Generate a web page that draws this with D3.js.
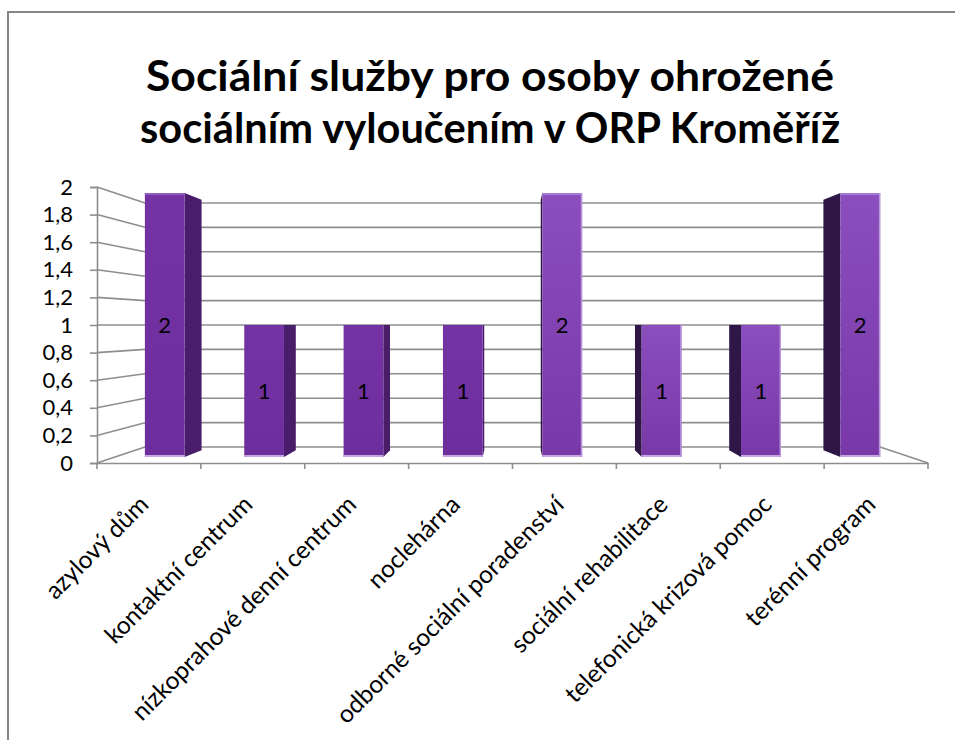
<!DOCTYPE html>
<html>
<head>
<meta charset="utf-8">
<script src="https://cdn.jsdelivr.net/npm/d3@7"></script>
<style>
  body { margin: 0; background: #fff; }
  svg { display: block; }
</style>
</head>
<body>
<svg id="chart" width="955" height="740"></svg>
<script>
var titleLines = ["Sociální služby pro osoby ohrožené", "sociálním vyloučením v ORP Kroměříž"];
var categories = ["azylový dům", "kontaktní centrum", "nízkoprahové denní centrum", "noclehárna",
    "odborné sociální poradenství", "sociální rehabilitace", "telefonická krizová pomoc", "terénní program"];
var values = [2, 1, 1, 1, 2, 1, 1, 2];
var yTicks = [0, 0.2, 0.4, 0.6, 0.8, 1, 1.2, 1.4, 1.6, 1.8, 2];

var svg = d3.select("svg#chart");
var font = "Lato, 'Open Sans', sans-serif";

// front plane of the 3d box
var x = d3.scaleBand().domain(categories).range([97, 928]).paddingInner(0).paddingOuter(0);
var y = d3.scaleLinear().domain([0, 2]).range([463, 187]);

// perspective: vanishing point in the middle of the plot
var vx = (x.range()[0] + x.range()[1]) / 2,
    vy = y(1);
var wallK = 0.8845, barFrontK = 0.9565, barBackK = 0.907;
var proj = (X, Y, k) => [vx + (X - vx) * k, vy + (Y - vy) * k];
var fmt = v => d3.format(".1~f")(v).replace(".", ",");

// chart border (left + top only visible)
svg.append("path")
    .attr("d", "M8,740 L8,12 L955,12")
    .attr("fill", "none")
    .attr("stroke", "#868686")
    .attr("stroke-width", 2);

// title, squeezed a little to look like the narrower original face
var titleWidths = [688, 700];
svg.append("g")
    .attr("font-family", font)
    .attr("font-weight", "bold")
    .attr("font-size", 42)
    .attr("text-anchor", "middle")
    .selectAll("text")
    .data(titleLines)
    .join("text")
    .attr("x", 490)
    .attr("y", (d, i) => 91 + i * 52)
    .attr("textLength", (d, i) => titleWidths[i])
    .attr("lengthAdjust", "spacingAndGlyphs")
    .text(d => d);

var grid = svg.append("g")
    .attr("stroke", "#8e8e8e")
    .attr("stroke-width", 1.6)
    .attr("fill", "none");

// left side wall gridlines
grid.selectAll("line.side")
    .data(yTicks)
    .join("line")
    .attr("class", "side")
    .attr("x1", x.range()[0]).attr("y1", d => y(d))
    .attr("x2", d => proj(x.range()[0], y(d), wallK)[0])
    .attr("y2", d => proj(x.range()[0], y(d), wallK)[1]);

// back wall gridlines
grid.selectAll("line.back")
    .data(yTicks)
    .join("line")
    .attr("class", "back")
    .attr("x1", d => proj(x.range()[0], y(d), wallK)[0])
    .attr("y1", d => proj(x.range()[0], y(d), wallK)[1])
    .attr("x2", d => proj(x.range()[1], y(d), wallK)[0])
    .attr("y2", d => proj(x.range()[1], y(d), wallK)[1]);

// floor right edge
var fr = proj(x.range()[1], y(0), wallK);
grid.append("line")
    .attr("x1", x.range()[1]).attr("y1", y(0))
    .attr("x2", fr[0]).attr("y2", fr[1]);

// y axis
var yAxis = svg.append("g")
    .attr("transform", `translate(${x.range()[0]},0)`)
    .call(d3.axisLeft(y).tickValues(yTicks).tickFormat(fmt).tickSize(7).tickPadding(17));
yAxis.select(".domain").attr("stroke", "#8e8e8e").attr("stroke-width", 1.6);
yAxis.selectAll(".tick line").attr("stroke", "#8e8e8e").attr("stroke-width", 1.6);
yAxis.selectAll(".tick text")
    .attr("font-family", font)
    .attr("font-size", 22)
    .attr("fill", "#000");

// x axis (front floor edge)
var xAxis = svg.append("g")
    .attr("transform", `translate(0,${y(0)})`)
    .call(d3.axisBottom(x).tickSize(0).tickFormat(""));
xAxis.select(".domain").attr("stroke", "#8e8e8e").attr("stroke-width", 1.6);
xAxis.selectAll(".boundary")
    .data(d3.range(categories.length + 1))
    .join("line")
    .attr("class", "boundary")
    .attr("x1", i => x.range()[0] + i * x.step())
    .attr("x2", i => x.range()[0] + i * x.step())
    .attr("y1", 0).attr("y2", 6)
    .attr("stroke", "#8e8e8e")
    .attr("stroke-width", 1.6);

// category labels
svg.append("g")
    .attr("font-family", font)
    .attr("font-size", 24.5)
    .attr("text-anchor", "end")
    .selectAll("text")
    .data(categories)
    .join("text")
    .attr("transform", d => `translate(${x(d) + x.bandwidth() / 2 - 5},${y(0) + 37}) rotate(-45)`)
    .attr("dy", "0.35em")
    .text(d => d);

// bars
var defs = svg.append("defs");
var gl = defs.append("linearGradient").attr("id", "gl").attr("x1", 0).attr("x2", 0).attr("y1", 0).attr("y2", 1);
gl.append("stop").attr("offset", 0).attr("stop-color", "#7433a4");
gl.append("stop").attr("offset", 1).attr("stop-color", "#6d2e9d");
var gr = defs.append("linearGradient").attr("id", "gr").attr("x1", 0).attr("x2", 0).attr("y1", 0).attr("y2", 1);
gr.append("stop").attr("offset", 0).attr("stop-color", "#8b4ebd");
gr.append("stop").attr("offset", 1).attr("stop-color", "#7838a8");

var barW = x.step() / 2.5;
var bars = values.map((v, i) => {
    var c = x(categories[i]) + x.bandwidth() / 2;
    var x0 = c - barW / 2, x1 = c + barW / 2;
    return {
        v, c, right: c > vx,
        f: [proj(x0, y(v), barFrontK), proj(x1, y(v), barFrontK), proj(x1, y(0), barFrontK), proj(x0, y(0), barFrontK)],
        b: [proj(x0, y(v), barBackK), proj(x1, y(v), barBackK), proj(x1, y(0), barBackK), proj(x0, y(0), barBackK)]
    };
});

var gBars = svg.append("g");
// side faces
gBars.selectAll("path.side")
    .data(bars)
    .join("path")
    .attr("class", "side")
    .attr("d", d => d.right
        ? d3.line()([d.f[0], d.b[0], d.b[3], d.f[3]]) + "Z"
        : d3.line()([d.f[1], d.b[1], d.b[2], d.f[2]]) + "Z")
    .attr("fill", d => d.right ? "#2e1646" : "#4a1d6b");

// front faces
gBars.selectAll("path.front")
    .data(bars)
    .join("path")
    .attr("class", "front")
    .attr("d", d => d3.line()(d.f) + "Z")
    .attr("fill", d => d.right ? "url(#gr)" : "url(#gl)");

// light edges on the front faces
gBars.selectAll("line.bottom")
    .data(bars)
    .join("line")
    .attr("class", "bottom")
    .attr("x1", d => d.f[3][0]).attr("x2", d => d.f[2][0])
    .attr("y1", d => d.f[2][1] - 1).attr("y2", d => d.f[2][1] - 1)
    .attr("stroke", "#c7a6e4").attr("stroke-width", 2);
gBars.selectAll("line.top")
    .data(bars.filter(d => d.v > 1))
    .join("line")
    .attr("class", "top")
    .attr("x1", d => d.f[0][0]).attr("x2", d => d.f[1][0])
    .attr("y1", d => d.f[0][1] + 1).attr("y2", d => d.f[0][1] + 1)
    .attr("stroke", d => d.right ? "#a57ad6" : "#8f5cc0").attr("stroke-width", 2);
gBars.selectAll("line.edge")
    .data(bars.filter(d => d.right))
    .join("line")
    .attr("class", "edge")
    .attr("x1", d => d.f[1][0] - 0.5).attr("x2", d => d.f[1][0] - 0.5)
    .attr("y1", d => d.f[1][1]).attr("y2", d => d.f[2][1])
    .attr("stroke", "#b995dc").attr("stroke-width", 1.5);

// data labels
svg.append("g")
    .attr("font-family", font)
    .attr("font-size", 22)
    .attr("text-anchor", "middle")
    .selectAll("text")
    .data(bars)
    .join("text")
    .attr("x", d => (d.f[0][0] + d.f[1][0]) / 2)
    .attr("y", d => (d.f[0][1] + d.f[3][1]) / 2)
    .attr("dy", "0.35em")
    .text(d => d.v);
</script>
</body>
</html>
